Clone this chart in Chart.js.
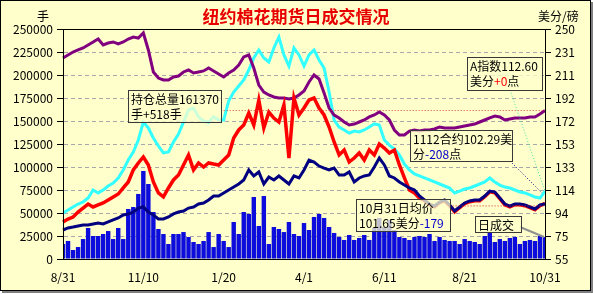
<!DOCTYPE html>
<html lang="zh-CN">
<head>
<meta charset="UTF-8">
<title>纽约棉花期货日成交情况</title>
<style>
  body { margin: 0; background: #ffffff; }
  #box {
    position: absolute; left: 0; top: 0;
    width: 589px; height: 289px;
    border: 1px solid #000;
    box-shadow: 2px 2px 0 #808080;
    background: #ffffcc;
  }
  canvas { display: block; }
</style>
</head>
<body>
<div id="box"><canvas id="cotton" width="589" height="289"></canvas></div>
<script src="https://cdn.jsdelivr.net/npm/chart.js@4.4.3/dist/chart.umd.min.js"></script>
<script>
// x 轴刻度 (2010/8/31 - 2011/10/31)，每 16 个点一个刻度
const dateTicks = ['8/31', '11/10', '1/20', '4/1', '6/11', '8/21', '10/31'];

// 持仓总量 (手, 左轴)
const openInterest = [
  218500, 221700, 225000, 227200, 229400, 232600, 235900, 239100, 232600, 234800,
  235900, 233700, 235900, 239100, 241300, 240200, 245700, 227200, 203300, 196700,
  194600, 194600, 197800, 198900, 203300, 205400, 202200, 203300, 204400, 207600,
  204400, 201100, 197800, 202200, 205400, 210900, 219600, 221700, 207600, 189100,
  181500, 178300, 176100, 175000, 175000, 173900, 175000, 178300, 182600, 192400,
  200000, 195700, 180400, 164100, 156500, 153300, 148900, 145700, 146700, 148900,
  151100, 154400, 156500, 159800, 156500, 151100, 140200, 134800, 134800, 139100,
  140200, 139100, 140200, 140200, 141300, 143500, 142400, 142400, 142400, 143500,
  144600, 145700, 146700, 148900, 151100, 153300, 155400, 154400, 151100, 152200,
  153300, 153300, 153300, 154400, 154400, 157600, 161370
];

// A 指数 (美分/磅, 右轴)
const aIndex = [
  94.0, 96.5, 99.1, 101.6, 103.3, 106.7, 113.5, 111.0, 113.5, 116.9,
  119.4, 123.7, 130.5, 138.9, 145.7, 155.9, 171.1, 166.1, 157.6, 150.8,
  144.9, 145.7, 154.2, 161.0, 171.1, 181.3, 183.0, 175.4, 172.0, 171.1,
  175.4, 172.8, 172.8, 189.0, 196.6, 201.7, 206.8, 215.2, 225.4, 232.2,
  225.4, 222.0, 233.9, 243.2, 228.0, 218.6, 233.9, 228.0, 218.6, 228.0,
  232.2, 223.7, 216.9, 196.6, 172.8, 166.9, 164.4, 161.8, 163.5, 162.7,
  164.4, 166.9, 169.5, 168.6, 155.9, 151.6, 148.3, 143.2, 135.5, 130.5,
  127.1, 125.4, 123.7, 122.0, 120.3, 118.6, 116.9, 115.2, 111.0, 112.6,
  114.3, 115.2, 116.9, 118.6, 120.3, 123.7, 120.3, 117.7, 116.0, 115.2,
  113.5, 111.8, 111.0, 109.3, 107.6, 106.7, 112.6
];

// 1112 合约 (美分/磅, 右轴)
const dec11 = [
  86.4, 88.9, 90.6, 94.8, 98.2, 101.6, 99.1, 100.8, 102.5, 105.0,
  107.6, 110.1, 115.2, 120.3, 130.5, 136.4, 141.5, 134.7, 120.3, 111.0,
  107.6, 115.2, 122.0, 126.2, 134.7, 143.2, 130.5, 136.4, 133.0, 136.4,
  135.5, 134.7, 138.9, 143.2, 157.6, 164.4, 168.6, 178.8, 168.6, 189.8,
  166.1, 179.6, 174.5, 171.1, 185.6, 140.6, 191.5, 177.1, 183.0, 189.8,
  191.5, 183.0, 177.1, 166.9, 154.2, 143.2, 147.4, 137.2, 140.6, 144.9,
  138.9, 147.4, 143.2, 152.5, 149.1, 144.9, 147.4, 134.7, 123.7, 113.5,
  111.0, 106.7, 104.4, 101.0, 99.3, 102.7, 104.4, 100.2, 95.1, 98.5,
  101.9, 103.6, 104.4, 104.4, 107.8, 112.0, 111.2, 106.1, 101.0, 99.3,
  101.0, 101.0, 100.2, 98.5, 96.8, 100.2, 102.29
];

// 均价 (美分/磅, 右轴)
const avgPrice = [
  79.6, 81.3, 82.1, 83.0, 83.8, 83.8, 84.7, 85.5, 84.7, 86.4,
  88.1, 89.8, 92.3, 93.2, 94.8, 98.2, 99.1, 94.8, 92.3, 88.9,
  88.9, 90.6, 93.2, 94.8, 95.7, 98.2, 99.1, 101.6, 102.5, 105.0,
  108.4, 108.4, 111.0, 113.5, 116.0, 118.6, 122.0, 130.5, 125.4, 128.8,
  118.6, 124.5, 122.0, 125.4, 122.0, 118.6, 125.4, 123.7, 130.5, 138.9,
  137.2, 133.8, 132.1, 130.5, 132.1, 126.2, 126.2, 128.8, 120.3, 123.7,
  125.4, 126.2, 133.0, 140.6, 134.7, 125.4, 123.7, 120.3, 117.7, 115.2,
  113.5, 108.4, 105.0, 101.6, 99.9, 103.3, 105.0, 100.8, 95.7, 99.1,
  102.5, 104.2, 105.0, 105.0, 108.4, 112.6, 111.8, 106.7, 101.6, 99.9,
  101.6, 101.6, 100.8, 99.1, 97.4, 100.8, 101.65
];

// 日成交 (手, 左轴)
const volume = [
  16300, 19600, 9800, 13000, 21700, 33700, 25000, 25000, 27200, 30400,
  21700, 33700, 21700, 54400, 56500, 70700, 95700, 81500, 51100, 32600,
  27200, 16300, 27200, 27200, 29300, 23900, 18500, 16300, 19600, 29300,
  13000, 27200, 19600, 13000, 40200, 27200, 51100, 48900, 67400, 35900,
  68500, 16300, 34800, 32600, 29300, 40200, 27200, 25000, 39100, 31500,
  45700, 48900, 44600, 34800, 28300, 23900, 20700, 26100, 20700, 22800,
  26100, 20700, 33700, 44600, 34800, 42400, 31500, 23900, 22800, 20700,
  23900, 25000, 23900, 27200, 19600, 23900, 20700, 19600, 19600, 16300,
  21700, 19600, 18500, 16300, 25000, 29300, 18500, 21700, 19600, 22800,
  23900, 16300, 19600, 20700, 19600, 25000, 23900
];

// 参考虚线
const oiRefValue = 161370, oiRefFrom = 32;
const priceRefValue = 100, priceRefFrom = 77;

const labels = volume.map((_, i) => (i % 16 === 0 ? dateTicks[i / 16] : ''));
const oiRef = volume.map((_, i) => (i >= oiRefFrom ? oiRefValue : null));
const priceRef = volume.map((_, i) => (i >= priceRefFrom ? priceRefValue : null));

const FONT = '"Noto Sans CJK SC", sans-serif';
Chart.defaults.font.family = FONT;
Chart.defaults.font.size = 12;
Chart.defaults.color = '#000';

// 注释框
const notes = [
  { x: 127, y: 89, w: 93, h: 32, lines: [[{ t: '持仓总量161370' }], [{ t: '手+518手' }]] },
  { x: 466, y: 56, w: 75, h: 33, lines: [[{ t: 'A指数112.60' }], [{ t: '美分' }, { t: '+0', c: '#ff0000' }, { t: '点' }]] },
  { x: 409, y: 129, w: 102, h: 31, lines: [[{ t: '1112合约102.29美' }], [{ t: '分' }, { t: '-208', c: '#0000cc' }, { t: '点' }]] },
  { x: 355, y: 198, w: 94, h: 32, lines: [[{ t: '10月31日均价' }], [{ t: '101.65美分' }, { t: '-179', c: '#0000cc' }]] },
  { x: 474, y: 215, w: 46, h: 16, lines: [[{ t: '日成交' }]] }
];

function drawNote(ctx, n) {
  ctx.fillStyle = 'rgba(255,255,204,0.75)';
  ctx.fillRect(n.x, n.y, n.w, n.h);
  ctx.strokeStyle = '#383838';
  ctx.lineWidth = 1;
  ctx.strokeRect(n.x + 0.5, n.y + 0.5, n.w, n.h);
  ctx.font = '12px ' + FONT;
  ctx.textAlign = 'left';
  ctx.textBaseline = 'middle';
  n.lines.forEach((parts, k) => {
    let tx = n.x + 3;
    const ty = n.y + 9 + k * 15;
    parts.forEach(p => {
      ctx.fillStyle = p.c || '#000';
      ctx.fillText(p.t, tx, ty);
      tx += ctx.measureText(p.t).width;
    });
  });
}

const decor = {
  id: 'decor',
  afterDraw(chart) {
    const { ctx, chartArea: a } = chart;
    const last = volume.length - 1;
    const cyanEnd = chart.getDatasetMeta(1).data[last];
    const barEnd = chart.getDatasetMeta(4).data[last];
    ctx.save();
    ctx.strokeStyle = '#000';
    ctx.lineWidth = 1;
    ctx.strokeRect(Math.round(a.left) + 0.5, Math.round(a.top) + 0.5,
      Math.round(a.right - a.left), Math.round(a.bottom - a.top));

    ctx.font = 'bold 17px ' + FONT;
    ctx.fillStyle = '#e80000';
    ctx.textAlign = 'center';
    ctx.textBaseline = 'middle';
    ctx.fillText('纽约棉花期货日成交情况', 295, 16);

    ctx.font = '12px ' + FONT;
    ctx.fillStyle = '#000';
    ctx.fillText('手', 42, 15);
    ctx.textAlign = 'left';
    ctx.fillText('美分/磅', 537, 15);

    // 引线
    ctx.setLineDash([1, 2]);
    ctx.strokeStyle = '#40e0a0';
    ctx.beginPath(); ctx.moveTo(509, 89); ctx.lineTo(cyanEnd.x, cyanEnd.y); ctx.stroke();
    ctx.strokeStyle = '#000080';
    ctx.beginPath(); ctx.moveTo(509, 160); ctx.lineTo(cyanEnd.x - 3, cyanEnd.y + 2); ctx.stroke();
    ctx.setLineDash([]);
    ctx.strokeStyle = '#909090';
    ctx.lineWidth = 2;
    ctx.beginPath(); ctx.moveTo(519, 226); ctx.lineTo(barEnd.x - 1, barEnd.y); ctx.stroke();

    notes.forEach(n => drawNote(ctx, n));
    ctx.restore();
  }
};

const line = (label, data, axis, color, width, order) => ({
  type: 'line', label, data, yAxisID: axis, borderColor: color, borderWidth: width,
  pointRadius: 0, tension: 0, fill: false, order
});

new Chart(document.getElementById('cotton'), {
  type: 'bar',
  data: {
    labels,
    datasets: [
      line('持仓总量', openInterest, 'yL', '#800080', 3, 3),
      line('A指数', aIndex, 'yR', '#33ffff', 3, 4),
      line('1112合约', dec11, 'yR', '#ff0000', 3.5, 2),
      line('均价', avgPrice, 'yR', '#000080', 3, 1),
      { type: 'bar', label: '日成交', data: volume, yAxisID: 'yL', backgroundColor: '#0c0cdc',
        barPercentage: 1, categoryPercentage: 0.88, order: 10 },
      Object.assign(line('持仓参考', oiRef, 'yL', '#d04040', 1, 0), { borderDash: [1, 2] }),
      Object.assign(line('价格参考', priceRef, 'yR', '#e02020', 1, 0), { borderDash: [1, 2] })
    ]
  },
  options: {
    responsive: false,
    animation: false,
    layout: { padding: { top: 28, left: 0, right: 0, bottom: 0 } },
    plugins: { legend: { display: false }, tooltip: { enabled: false }, title: { display: false } },
    scales: {
      x: {
        type: 'category',
        offset: false,
        grid: { display: false, drawTicks: false },
        border: { display: true, color: '#000' },
        ticks: { autoSkip: false, maxRotation: 0, padding: 11 },
        afterFit: s => { s.height = 31; }
      },
      yL: {
        position: 'left',
        min: 0, max: 250000,
        ticks: { stepSize: 25000, padding: 4, callback: v => String(v) },
        grid: { color: '#a8a8a8', tickColor: '#000', tickLength: 6, tickBorderDash: [] },
        border: { color: '#000', dash: [4, 3] },
        afterFit: s => { s.width = 62; }
      },
      yR: {
        position: 'right',
        min: 55, max: 250,
        ticks: { stepSize: 19.5, padding: 4, callback: v => String(Math.round(v)) },
        grid: { color: 'rgba(0,0,0,0)', tickColor: '#000', tickLength: 6, drawOnChartArea: false },
        border: { color: '#000' },
        afterFit: s => { s.width = 45; }
      }
    }
  },
  plugins: [decor]
});
</script>
</body>
</html>
